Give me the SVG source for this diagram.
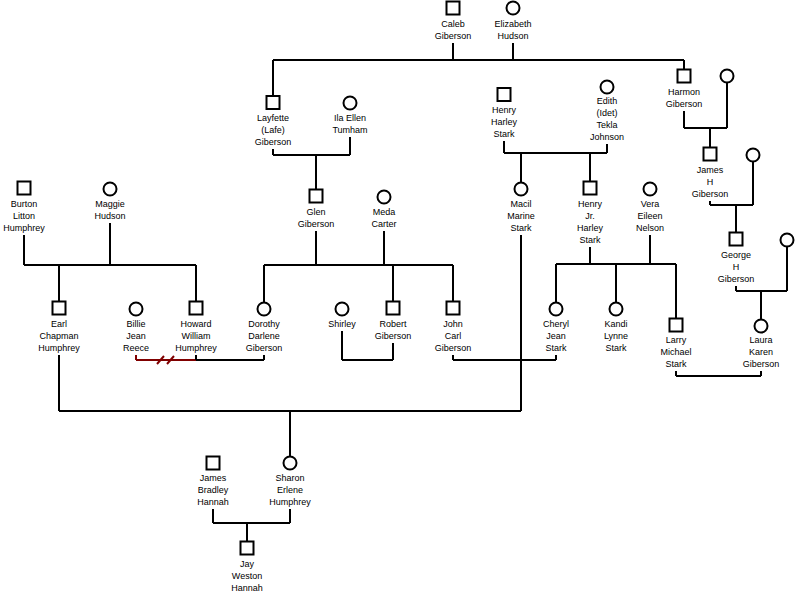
<svg xmlns="http://www.w3.org/2000/svg" width="800" height="594" viewBox="0 0 800 594">
<style>
  .m { fill: #fff; stroke: #000; stroke-width: 2; }
  .f { fill: #fff; stroke: #000; stroke-width: 2; }
  text { font-family: "Liberation Sans", Arial, sans-serif; font-size: 9px; fill: #000; text-anchor: middle; }
  .ln { fill: none; stroke: #000; stroke-width: 2; stroke-linecap: butt; }
  .dv { fill: none; stroke: #800000; stroke-width: 2; }
</style>
<rect width="800" height="594" fill="#fff"/>

<g id="connectors">
  <!-- Caleb + Elizabeth -->
  <path class="ln" d="M453 43V60M513 43V60M273 60H684M273 60V96M684 60V69"/>
  <!-- Layfette + Ila -->
  <path class="ln" d="M273 149V155M350 137V155M273 155H350M316 155V189"/>
  <!-- Henry + Edith -->
  <path class="ln" d="M504 141V153M607 144V153M504 153H607M521 153V182M590 153V181"/>
  <!-- Harmon + spouse -->
  <path class="ln" d="M684 111V128M727 83V128M684 128H727M710 128V147"/>
  <!-- James H + spouse -->
  <path class="ln" d="M710 201V205M753 162V205M710 205H753M736 205V232"/>
  <!-- George H + spouse -->
  <path class="ln" d="M736 286V291M787 247V291M736 291H787M761 291V319"/>
  <!-- Burton + Maggie -->
  <path class="ln" d="M24 235V265M110 223V265M24 265H196M59 265V301M196 265V301"/>
  <!-- Glen + Meda -->
  <path class="ln" d="M316 231V265M384 231V265M264 265H453M264 265V302M393 265V301M453 265V301"/>
  <!-- Henry Jr + Vera -->
  <path class="ln" d="M590 247V264M650 235V264M556 264H676M556 264V302M616 264V302M676 264V318"/>
  <!-- Billie + Howard (divorced) -->
  <path class="dv" d="M136 355V360M136 360H196"/>
  <path class="dv" d="M157 364L164 356M167 364L174 356"/>
  <!-- Howard + Dorothy -->
  <path class="ln" d="M196 355V360M196 360H264M264 355V360"/>
  <!-- Shirley + Robert -->
  <path class="ln" d="M342 331V360M393 343V360M342 360H393"/>
  <!-- John Carl + Cheryl -->
  <path class="ln" d="M453 355V360M556 355V360M453 360H556"/>
  <!-- Larry + Laura -->
  <path class="ln" d="M676 371V376M761 371V376M676 376H761"/>
  <!-- Earl + Macil -->
  <path class="ln" d="M59 355V411M521 235V411M59 411H521M290 411V456"/>
  <!-- James Bradley + Sharon -->
  <path class="ln" d="M213 509V523M290 509V523M213 523H290M247 523V541"/>
</g>

<g id="caleb"><rect class="m" x="446.5" y="1.5" width="13" height="13"/><text x="453" y="27">Caleb</text><text x="453" y="39">Giberson</text></g>
<g id="elizabeth"><circle class="f" cx="513" cy="8" r="6.5"/><text x="513" y="27">Elizabeth</text><text x="513" y="39">Hudson</text></g>

<g id="layfette"><rect class="m" x="266.5" y="96" width="13" height="13"/><text x="273" y="121">Layfette</text><text x="273" y="133">(Lafe)</text><text x="273" y="145">Giberson</text></g>
<g id="ila"><circle class="f" cx="350" cy="103" r="6.5"/><text x="350" y="121">Ila Ellen</text><text x="350" y="133">Tumham</text></g>
<g id="henry"><rect class="m" x="497.5" y="88" width="13" height="13"/><text x="504" y="113">Henry</text><text x="504" y="125">Harley</text><text x="504" y="137">Stark</text></g>
<g id="edith"><circle class="f" cx="607" cy="87" r="6.5"/><text x="607" y="104">Edith</text><text x="607" y="116">(Idet)</text><text x="607" y="128">Tekla</text><text x="607" y="140">Johnson</text></g>
<g id="harmon"><rect class="m" x="677.5" y="69.5" width="13" height="13"/><text x="684" y="95">Harmon</text><text x="684" y="107">Giberson</text></g>
<g id="harmon-spouse"><circle class="f" cx="727" cy="76" r="6.5"/></g>
<g id="james-h"><rect class="m" x="703.5" y="147.5" width="13" height="13"/><text x="710" y="173">James</text><text x="710" y="185">H</text><text x="710" y="197">Giberson</text></g>
<g id="james-h-spouse"><circle class="f" cx="753" cy="155" r="6.5"/></g>
<g id="george"><rect class="m" x="729.5" y="232.5" width="13" height="13"/><text x="736" y="258">George</text><text x="736" y="270">H</text><text x="736" y="282">Giberson</text></g>
<g id="george-spouse"><circle class="f" cx="787" cy="240" r="6.5"/></g>

<g id="burton"><rect class="m" x="17.5" y="181.5" width="13" height="13"/><text x="24" y="207">Burton</text><text x="24" y="219">Litton</text><text x="24" y="231">Humphrey</text></g>
<g id="maggie"><circle class="f" cx="110" cy="189" r="6.5"/><text x="110" y="207">Maggie</text><text x="110" y="219">Hudson</text></g>
<g id="glen"><rect class="m" x="309.5" y="189.5" width="13" height="13"/><text x="316" y="215">Glen</text><text x="316" y="227">Giberson</text></g>
<g id="meda"><circle class="f" cx="384" cy="197" r="6.5"/><text x="384" y="215">Meda</text><text x="384" y="227">Carter</text></g>
<g id="macil"><circle class="f" cx="521" cy="189" r="6.5"/><text x="521" y="207">Macil</text><text x="521" y="219">Marine</text><text x="521" y="231">Stark</text></g>
<g id="henry-jr"><rect class="m" x="583.5" y="181.5" width="13" height="13"/><text x="590" y="207">Henry</text><text x="590" y="219">Jr.</text><text x="590" y="231">Harley</text><text x="590" y="243">Stark</text></g>
<g id="vera"><circle class="f" cx="650" cy="189" r="6.5"/><text x="650" y="207">Vera</text><text x="650" y="219">Eileen</text><text x="650" y="231">Nelson</text></g>

<g id="earl"><rect class="m" x="52.5" y="301.5" width="13" height="13"/><text x="59" y="327">Earl</text><text x="59" y="339">Chapman</text><text x="59" y="351">Humphrey</text></g>
<g id="billie"><circle class="f" cx="136" cy="309" r="6.5"/><text x="136" y="327">Billie</text><text x="136" y="339">Jean</text><text x="136" y="351">Reece</text></g>
<g id="howard"><rect class="m" x="189.5" y="301.5" width="13" height="13"/><text x="196" y="327">Howard</text><text x="196" y="339">William</text><text x="196" y="351">Humphrey</text></g>
<g id="dorothy"><circle class="f" cx="264" cy="309" r="6.5"/><text x="264" y="327">Dorothy</text><text x="264" y="339">Darlene</text><text x="264" y="351">Giberson</text></g>
<g id="shirley"><circle class="f" cx="342" cy="309" r="6.5"/><text x="342" y="327">Shirley</text></g>
<g id="robert"><rect class="m" x="386.5" y="301.5" width="13" height="13"/><text x="393" y="327">Robert</text><text x="393" y="339">Giberson</text></g>
<g id="john-carl"><rect class="m" x="446.5" y="301.5" width="13" height="13"/><text x="453" y="327">John</text><text x="453" y="339">Carl</text><text x="453" y="351">Giberson</text></g>
<g id="cheryl"><circle class="f" cx="556" cy="309" r="6.5"/><text x="556" y="327">Cheryl</text><text x="556" y="339">Jean</text><text x="556" y="351">Stark</text></g>
<g id="kandi"><circle class="f" cx="616" cy="309" r="6.5"/><text x="616" y="327">Kandi</text><text x="616" y="339">Lynne</text><text x="616" y="351">Stark</text></g>
<g id="larry"><rect class="m" x="669.5" y="318.5" width="13" height="13"/><text x="676" y="343">Larry</text><text x="676" y="355">Michael</text><text x="676" y="367">Stark</text></g>
<g id="laura"><circle class="f" cx="761" cy="326" r="6.5"/><text x="761" y="343">Laura</text><text x="761" y="355">Karen</text><text x="761" y="367">Giberson</text></g>

<g id="james-bradley"><rect class="m" x="206.5" y="456.5" width="13" height="13"/><text x="213" y="481">James</text><text x="213" y="493">Bradley</text><text x="213" y="505">Hannah</text></g>
<g id="sharon"><circle class="f" cx="290" cy="463" r="6.5"/><text x="290" y="481">Sharon</text><text x="290" y="493">Erlene</text><text x="290" y="505">Humphrey</text></g>
<g id="jay"><rect class="m" x="240.5" y="541.5" width="13" height="13"/><text x="247" y="567">Jay</text><text x="247" y="579">Weston</text><text x="247" y="591">Hannah</text></g>
</svg>
